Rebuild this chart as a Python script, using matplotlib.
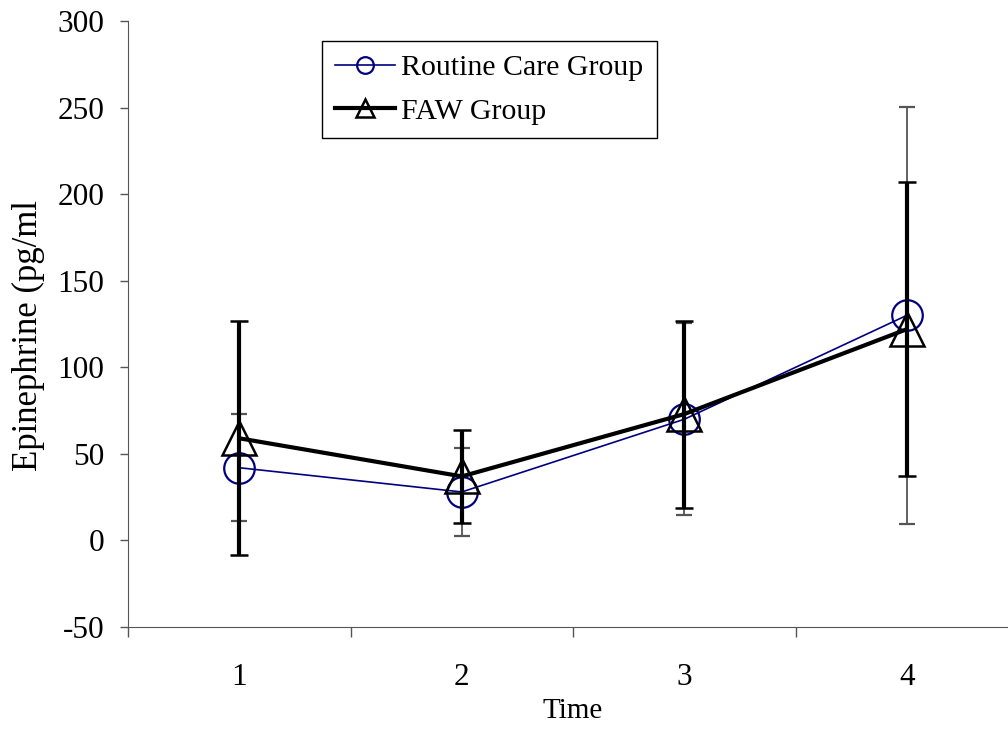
import matplotlib
matplotlib.use("Agg")
import matplotlib.pyplot as plt
from matplotlib.lines import Line2D

plt.rcParams["font.family"] = ["Liberation Serif", "DejaVu Serif"]
plt.rcParams["axes.unicode_minus"] = False

times = [1, 2, 3, 4]
routine = [42, 28, 70, 130]
routine_err = [31, 25.5, 55.5, 120.5]
faw = [59, 37, 73, 122]
faw_err = [67.5, 27, 54, 85]

navy = "#000080"
axis_col = "#555555"

fig = plt.figure(figsize=(10.08, 7.46), dpi=100)
ax = fig.add_axes([0.127, 0.1595, 0.883, 0.8123])

ax.errorbar(times, routine, yerr=routine_err, color=navy, lw=1.2,
            marker="o", ms=22, mfc="none", mec=navy, mew=1.6,
            ecolor="#555555", elinewidth=1.3, capsize=5.5, capthick=1.3,
            zorder=2)
ax.errorbar(times, faw, yerr=faw_err, color="black", lw=3,
            marker="^", ms=24, mfc="none", mec="black", mew=1.8,
            ecolor="black", elinewidth=3, capsize=6.5, capthick=3,
            zorder=3)

ax.set_xlim(0.5, 4.5)
ax.set_ylim(-50, 300)
ax.set_yticks(range(-50, 301, 50))
ax.set_xticks(times)
ax.set_xticks([0.5, 1.5, 2.5, 3.5], minor=True)
ax.tick_params(axis="x", which="major", length=0, labelsize=22.5, pad=26)
ax.tick_params(axis="x", which="minor", length=7, width=1, direction="out",
               color=axis_col)
ax.tick_params(axis="y", length=6, width=1, direction="out", labelsize=22.5,
               pad=11, color=axis_col)

for s in ["top", "right"]:
    ax.spines[s].set_visible(False)
for s in ["left", "bottom"]:
    ax.spines[s].set_color(axis_col)

ax.set_xlabel("Time", fontsize=21, labelpad=4)
fig.text(0.028, 0.55, "Epinephrine (pg/ml", rotation=90, fontsize=25,
         ha="center", va="center")

handles = [
    Line2D([], [], color=navy, lw=1.2, marker="o", ms=12, mfc="none",
           mec=navy, mew=1.6),
    Line2D([], [], color="black", lw=3, marker="^", ms=13, mfc="none",
           mec="black", mew=1.8),
]
labels = ["Routine Care Group", "FAW Group"]
leg = ax.legend(handles, labels, loc="upper left",
                bbox_to_anchor=(0.3194, 0.945), bbox_transform=fig.transFigure,
                fontsize=21.5, frameon=True, fancybox=False, edgecolor="black",
                handlelength=2.0, handletextpad=0.2, borderpad=0.45,
                labelspacing=0.55, borderaxespad=0, framealpha=1)
leg.get_frame().set_linewidth(1)

fig.savefig("out.png", dpi=100)
